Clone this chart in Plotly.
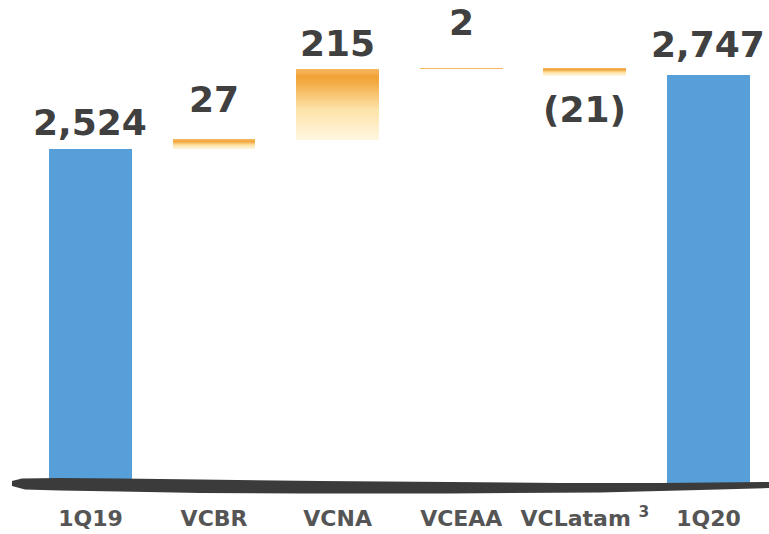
import plotly.graph_objects as go

# Net revenue bridge, 1Q19 -> 1Q20
categories = ["1Q19", "VCBR", "VCNA", "VCEAA", "VCLatam <sup>3</sup>", "1Q20"]
start_total = 2524
deltas = [27, 215, 2, -21]
end_total = 2747
value_labels = ["2,524", "27", "215", "2", "(21)", "2,747"]

W, H = 769, 534
Y_RANGE = [1503, 2975]
BAR_W = 0.67

BLUE = "#579fd9"
TEXT = "#404040"
TICK = "#555555"


def lerp(c1, c2, t):
    a = [int(c1[i:i + 2], 16) for i in (1, 3, 5)]
    b = [int(c2[i:i + 2], 16) for i in (1, 3, 5)]
    return "#" + "".join(f"{round(x + (y - x) * t):02x}" for x, y in zip(a, b))


def orange_at(t):
    # t = 0 at the bottom of a bar, 1 at its top
    stops = [(0.0, "#fff7e2"), (0.45, "#fde2a6"), (0.8, "#f4ad48"), (0.9, "#f1a237"), (1.0, "#f6b861")]
    for (t0, c0), (t1, c1) in zip(stops, stops[1:]):
        if t <= t1:
            return lerp(c0, c1, (t - t0) / (t1 - t0))
    return stops[-1][1]


fig = go.Figure()

# opening and closing totals
fig.add_trace(go.Bar(x=[0, 5], y=[start_total, end_total], width=BAR_W,
                     marker=dict(color=BLUE, line=dict(width=0)),
                     hoverinfo="skip", showlegend=False))

# floating deltas, shaded top-to-bottom in thin horizontal bands
N_BANDS = 40
level = start_total
delta_spans = []
for i, d in enumerate(deltas, start=1):
    lo, hi = min(level, level + d), max(level, level + d)
    delta_spans.append((lo, hi))
    step = (hi - lo) / N_BANDS
    bases = [lo + step * k for k in range(N_BANDS)]
    colors = [orange_at((k + 0.5) / N_BANDS) for k in range(N_BANDS)]
    fig.add_trace(go.Bar(x=[i] * N_BANDS, y=[step] * N_BANDS, base=bases, width=BAR_W,
                         marker=dict(color=colors, line=dict(width=0)),
                         hoverinfo="skip", showlegend=False))
    level += d

fig.update_layout(barmode="overlay")

# value labels
label_y = [start_total] + [hi for lo, hi in delta_spans] + [end_total]
label_y[4] = delta_spans[3][0]
label_shift = [26, 40, 25, 46, -34, 31]
for i, (txt, yv, sh) in enumerate(zip(value_labels, label_y, label_shift)):
    fig.add_annotation(x=i, y=yv, text=txt, showarrow=False, xref="x", yref="y",
                       yanchor="middle", yshift=sh,
                       font=dict(family="DejaVu Sans", size=36, color=TEXT, weight="bold"))

# hand-drawn baseline stroke (pixel outline converted to paper space)
plot_h = 485
top_edge = [(12, 481), (22, 478.5), (60, 478), (120, 478.5), (200, 479.5), (320, 481),
            (450, 482), (560, 483), (660, 483), (769, 482)]
bot_edge = [(769, 488), (700, 490), (600, 492.5), (450, 493.5), (300, 493.5), (200, 493),
            (120, 491.5), (60, 490.5), (25, 489.5), (12, 486)]
pts = top_edge + bot_edge
path = "M " + " L ".join(f"{x / W:.5f},{(plot_h - y) / plot_h:.5f}" for x, y in pts) + " Z"
fig.add_shape(type="path", path=path, xref="paper", yref="paper",
              fillcolor="#3b3b3b", line=dict(width=0), layer="above")

fig.update_xaxes(range=[-0.732, 5.49], tickmode="array", tickvals=list(range(6)),
                 ticktext=categories, showgrid=False, zeroline=False, showline=False,
                 ticks="", ticklabelstandoff=18,
                 tickfont=dict(family="DejaVu Sans", size=22, color=TICK, weight="bold"))
fig.update_yaxes(range=Y_RANGE, visible=False)

fig.update_layout(width=W, height=H, margin=dict(l=0, r=0, t=0, b=H - plot_h),
                  paper_bgcolor="white", plot_bgcolor="white", bargap=0)

fig.write_html("out.html")
